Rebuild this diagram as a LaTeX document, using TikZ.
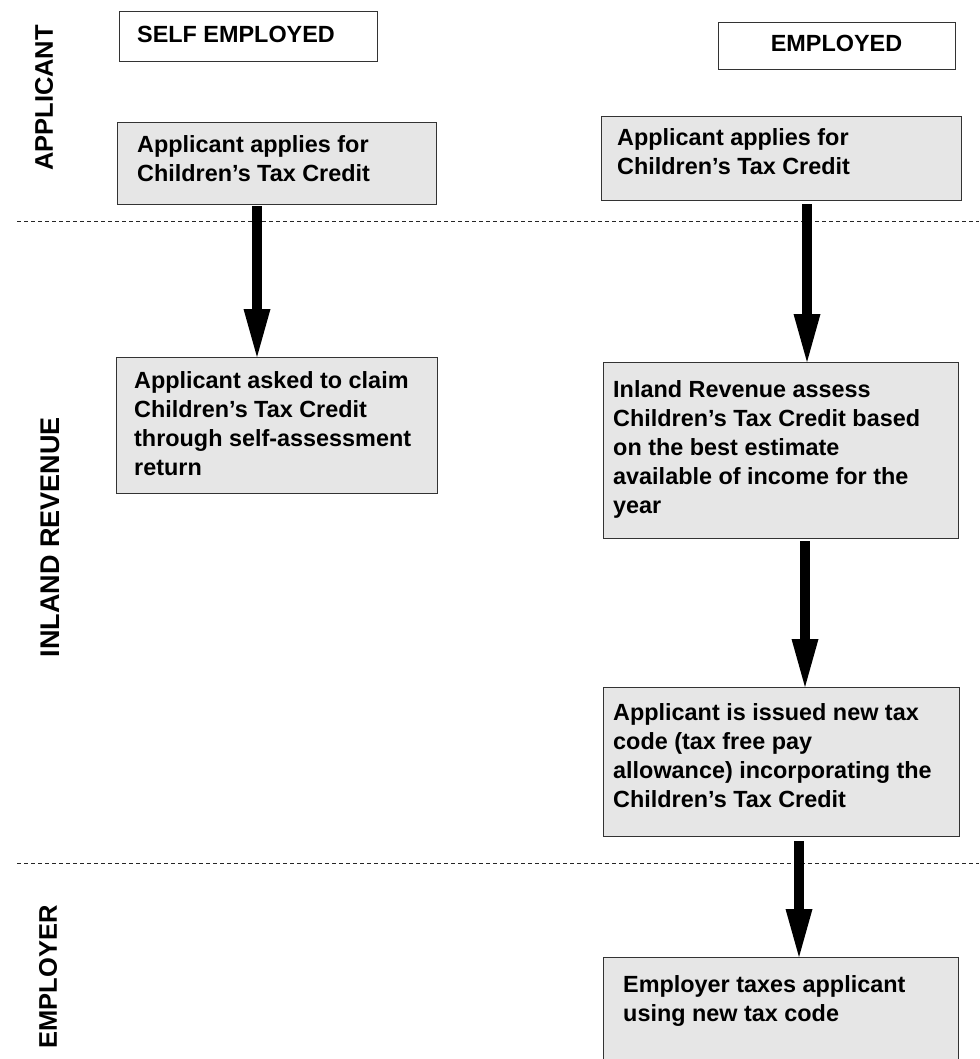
\documentclass[tikz,border=0pt]{standalone}
\usepackage{fontspec}
\setmainfont{Liberation Sans}
\usetikzlibrary{arrows.meta}
\definecolor{boxfill}{HTML}{E6E6E6}
\definecolor{boxline}{HTML}{333333}
\tikzset{
  graybox/.style={draw=boxline, line width=1.2pt, fill=boxfill, inner sep=0pt, anchor=north west},
  whitebox/.style={draw=boxline, line width=1.2pt, fill=white, inner sep=0pt, anchor=north west},
  bodytext/.style={inner sep=0pt, anchor=base west, font=\fontsize{23.4}{29}\selectfont\bfseries},
  lanelabel/.style={inner sep=0pt, rotate=90, font=\fontsize{25.5}{30}\selectfont\bfseries},
  bigarrow/.style={line width=10.5pt, draw=black, -{Triangle[length=48pt,width=27pt,line width=0pt]}},
  laneline/.style={line width=1pt, draw=black!85, dash pattern=on 4pt off 3pt}
}
\newcommand{\bx}[2]{\parbox[t]{#1}{\raggedright #2}}
\begin{document}
\begin{tikzpicture}[x=1pt,y=-1pt]
\useasboundingbox (0,0) rectangle (979,1059);
\clip (0,0) rectangle (979,1059);
\fill[white] (0,0) rectangle (979,1059);

% lane separators
\coordinate (d1a) at (17,222);
\coordinate (d1b) at (979,222);
\coordinate (d2a) at (17,863);
\coordinate (d2b) at (979,863);
\draw[laneline] (d1a) -- (d1b);
\draw[laneline] (d2a) -- (d2b);

% lane labels
\node[lanelabel] (lapp) at (44,98) {APPLICANT};
\node[lanelabel, font=\fontsize{27}{30}\selectfont\bfseries] (lir) at (50,537) {INLAND REVENUE};
\node[lanelabel] (lemp) at (48,977) {EMPLOYER};

% column headers
\node[whitebox, minimum width=258pt, minimum height=50pt] (se) at (119,11) {};
\node[bodytext] (set) at (137,43) {SELF EMPLOYED};
\node[whitebox, minimum width=237pt, minimum height=47pt] (em) at (718,22) {};
\node[bodytext, anchor=base] (emt) at (836.5,52) {EMPLOYED};

% left column
\node[graybox, minimum width=319pt, minimum height=82pt] (b1) at (117,122) {};
\node[bodytext] (b1t) at (137,153) {\bx{300pt}{Applicant applies for\\Children’s Tax Credit}};
\node[graybox, minimum width=321pt, minimum height=136pt] (sa) at (116,357) {};
\node[bodytext] (sat) at (134,388) {\bx{310pt}{Applicant asked to claim\\Children’s Tax Credit\\through self-assessment\\return}};

% right column
\node[graybox, minimum width=360pt, minimum height=84pt] (b2) at (601,116) {};
\node[bodytext] (b2t) at (617,146) {\bx{330pt}{Applicant applies for\\Children’s Tax Credit}};
\node[graybox, minimum width=355pt, minimum height=176pt] (ir) at (603,362) {};
\node[bodytext] (irt) at (613,397) {\bx{345pt}{Inland Revenue assess\\Children’s Tax Credit based\\on the best estimate\\available of income for the\\year}};
\node[graybox, minimum width=356pt, minimum height=149pt] (tc) at (603,687) {};
\node[bodytext] (tct) at (613,720) {\bx{345pt}{Applicant is issued new tax\\code (tax free pay\\allowance) incorporating the\\Children’s Tax Credit}};
\node[graybox, minimum width=355pt, minimum height=120pt] (et) at (603,957) {};
\node[bodytext] (ett) at (623,992) {\bx{330pt}{Employer taxes applicant\\using new tax code}};

% arrow columns
\coordinate (xa) at (257,0);
\coordinate (xb) at (807,0);
\coordinate (xc) at (805,0);
\coordinate (xd) at (799,0);

% connectors
\draw[bigarrow] ([yshift=-1pt]b1.south -| xa) -- (sa.north -| xa);
\draw[bigarrow] ([yshift=-3pt]b2.south -| xb) -- (ir.north -| xb);
\draw[bigarrow] ([yshift=-2pt]ir.south -| xc) -- (tc.north -| xc);
\draw[bigarrow] ([yshift=-4pt]tc.south -| xd) -- (et.north -| xd);
\end{tikzpicture}
\end{document}
